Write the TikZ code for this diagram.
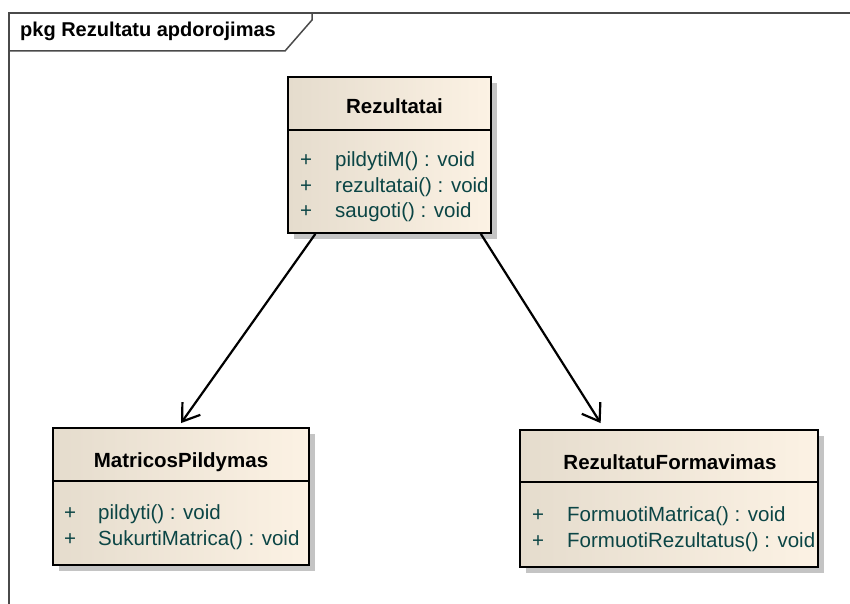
\documentclass[tikz,border=0pt]{standalone}
\usepackage{fontspec}
\setmainfont{Liberation Sans}
\usetikzlibrary{arrows.meta,calc,shadows}
\definecolor{clsleft}{HTML}{E5DCCD}
\definecolor{clsright}{HTML}{FCF2E4}
\definecolor{optext}{HTML}{0B4545}
\definecolor{shadegray}{HTML}{C4C4C4}
\definecolor{framegray}{HTML}{4A4A4A}
\begin{document}
\begin{tikzpicture}[x=1pt,y=-1pt,
  classbox/.style={draw=black, line width=1.8pt, rectangle, inner sep=0pt,
    left color=clsleft, right color=clsright,
    drop shadow={shadow xshift=6pt, shadow yshift=-6pt, fill=shadegray, opacity=1}},
  clsname/.style={font=\fontsize{20.5}{24}\selectfont\bfseries, inner sep=0pt, anchor=base},
  opsign/.style={font=\fontsize{20.5}{24}\selectfont, text=optext, inner sep=0pt, anchor=base},
  optext/.style={font=\fontsize{20.5}{24}\selectfont, text=optext, inner sep=0pt, anchor=base west},
  divider/.style={line width=1.5pt},
  assoc/.style={line width=2.2pt, -{Straight Barb[length=16pt,width=22pt,line width=2.2pt]}},
  pkgframe/.style={framegray, line width=1.5pt}
]
\clip (0,0) rectangle (850,604);
\fill[white] (0,0) rectangle (850,604);

% package frame and its name tab
\draw[pkgframe] (9,640) -- (9,13) -- (880,13);
\draw[pkgframe] (9,51) -- (285,51) -- (312,20) -- (312,13);
\node[font=\fontsize{20}{24}\selectfont\bfseries, inner sep=0pt, anchor=base west] (pkgname) at (20,37) {pkg Rezultatu apdorojimas};

% class Rezultatai
\node[classbox, minimum width=203pt, minimum height=156pt] (r) at (389.5,155) {};
\draw[divider] ($(r.north west)+(0,54)$) -- ($(r.north east)+(0,54)$);
\node[clsname] (rname) at (394.5,114) {Rezultatai};
\node[opsign] (rp1) at (306,167) {+};
\node[optext] (ro1) at (335,167) {pildytiM() : void};
\node[opsign] (rp2) at (306,192) {+};
\node[optext] (ro2) at (335,192) {rezultatai() : void};
\node[opsign] (rp3) at (306,217) {+};
\node[optext] (ro3) at (335,217) {saugoti() : void};

% class MatricosPildymas
\node[classbox, minimum width=256pt, minimum height=137pt] (mp) at (181,496.5) {};
\draw[divider] ($(mp.north west)+(0,54)$) -- ($(mp.north east)+(0,54)$);
\node[clsname] (mpname) at (181,467) {MatricosPildymas};
\node[opsign] (mpp1) at (70,519) {+};
\node[optext] (mpo1) at (98,519) {pildyti() : void};
\node[opsign] (mpp2) at (70,545) {+};
\node[optext] (mpo2) at (98,545) {SukurtiMatrica() : void};

% class RezultatuFormavimas
\node[classbox, minimum width=298pt, minimum height=137pt] (rf) at (669,498.5) {};
\draw[divider] ($(rf.north west)+(0,53)$) -- ($(rf.north east)+(0,53)$);
\node[clsname] (rfname) at (670,469) {RezultatuFormavimas};
\node[opsign] (rfp1) at (538,521) {+};
\node[optext] (rfo1) at (567,521) {FormuotiMatrica() : void};
\node[opsign] (rfp2) at (538,547) {+};
\node[optext] (rfo2) at (567,547) {FormuotiRezultatus() : void};

% directed associations
\draw[assoc] ($(r.south west)!0.138!(r.south east)$) -- ($(mp.north)+(0,-4)$);
\draw[assoc] ($(r.south west)!0.946!(r.south east)$) -- ($(rf.north west)!0.272!(rf.north east)+(0,-6)$);
\end{tikzpicture}
\end{document}
